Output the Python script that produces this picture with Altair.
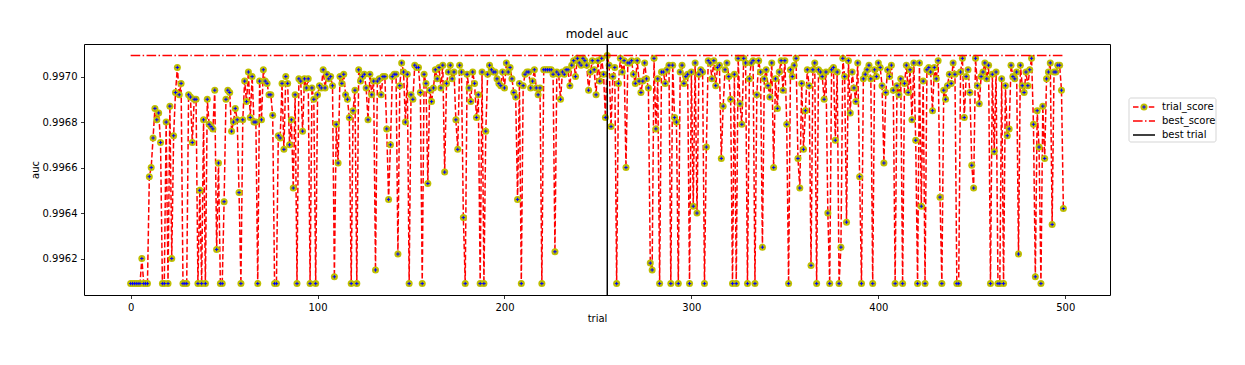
import altair as alt
import pandas as pd

# ---- data (auc per trial, trials 0..499) ----
auc_000_049 = [
    0.99609, 0.99609, 0.99609, 0.99609, 0.99609, 0.99609, 0.99620, 0.99609, 0.99609, 0.99609,
    0.99656, 0.99660, 0.99673, 0.99686, 0.99681, 0.99684, 0.99671, 0.99609, 0.99609, 0.99680,
    0.99609, 0.99687, 0.99620, 0.99674, 0.99693, 0.99704, 0.99692, 0.99697, 0.99609, 0.99609,
    0.99609, 0.99692, 0.99691, 0.99671, 0.99690, 0.99690, 0.99609, 0.99650, 0.99609, 0.99681,
    0.99609, 0.99690, 0.99679, 0.99678, 0.99677, 0.99694, 0.99624, 0.99662, 0.99609, 0.99609,
]
auc_050_099 = [
    0.99645, 0.99690, 0.99694, 0.99693, 0.99676, 0.99680, 0.99686, 0.99681, 0.99649, 0.99609,
    0.99681, 0.99698, 0.99689, 0.99702, 0.99682, 0.99700, 0.99680, 0.99680, 0.99609, 0.99698,
    0.99681, 0.99703, 0.99698, 0.99697, 0.99692, 0.99692, 0.99683, 0.99609, 0.99609, 0.99674,
    0.99673, 0.99697, 0.99668, 0.99700, 0.99697, 0.99670, 0.99681, 0.99651, 0.99692, 0.99609,
    0.99699, 0.99698, 0.99676, 0.99699, 0.99695, 0.99699, 0.99609, 0.99695, 0.99690, 0.99609,
]
auc_100_149 = [
    0.99692, 0.99696, 0.99695, 0.99703, 0.99695, 0.99701, 0.99699, 0.99700, 0.99696, 0.99612,
    0.99679, 0.99662, 0.99700, 0.99697, 0.99701, 0.99692, 0.99690, 0.99682, 0.99609, 0.99685,
    0.99694, 0.99609, 0.99703, 0.99698, 0.99700, 0.99701, 0.99695, 0.99681, 0.99701, 0.99692,
    0.99698, 0.99615, 0.99698, 0.99699, 0.99692, 0.99700, 0.99700, 0.99677, 0.99646, 0.99670,
    0.99700, 0.99701, 0.99701, 0.99622, 0.99696, 0.99706, 0.99702, 0.99680, 0.99701, 0.99609,
]
auc_150_199 = [
    0.99692, 0.99690, 0.99705, 0.99704, 0.99704, 0.99693, 0.99609, 0.99701, 0.99697, 0.99653,
    0.99694, 0.99689, 0.99695, 0.99703, 0.99699, 0.99704, 0.99695, 0.99705, 0.99658, 0.99697,
    0.99702, 0.99705, 0.99699, 0.99702, 0.99681, 0.99668, 0.99705, 0.99702, 0.99638, 0.99609,
    0.99701, 0.99695, 0.99689, 0.99702, 0.99697, 0.99682, 0.99692, 0.99609, 0.99702, 0.99609,
    0.99676, 0.99701, 0.99705, 0.99703, 0.99702, 0.99702, 0.99699, 0.99697, 0.99696, 0.99702,
]
auc_200_249 = [
    0.99695, 0.99706, 0.99702, 0.99704, 0.99699, 0.99693, 0.99691, 0.99646, 0.99697, 0.99609,
    0.99696, 0.99701, 0.99702, 0.99702, 0.99695, 0.99698, 0.99703, 0.99695, 0.99692, 0.99695,
    0.99609, 0.99703, 0.99703, 0.99703, 0.99703, 0.99703, 0.99701, 0.99623, 0.99702, 0.99701,
    0.99690, 0.99702, 0.99701, 0.99703, 0.99703, 0.99696, 0.99705, 0.99707, 0.99700, 0.99708,
    0.99706, 0.99705, 0.99708, 0.99707, 0.99705, 0.99694, 0.99702, 0.99707, 0.99703, 0.99692,
]
auc_250_299 = [
    0.99707, 0.99698, 0.99708, 0.99701, 0.99682, 0.997093, 0.99705, 0.99678, 0.99700, 0.99704,
    0.99609, 0.99697, 0.99708, 0.99702, 0.99707, 0.99660, 0.99706, 0.99706, 0.99707, 0.99701,
    0.99697, 0.99707, 0.99698, 0.99693, 0.99698, 0.99706, 0.99699, 0.99695, 0.99618, 0.99615,
    0.99708, 0.99677, 0.99699, 0.99609, 0.99702, 0.99702, 0.99697, 0.99703, 0.99705, 0.99609,
    0.99705, 0.99682, 0.99680, 0.99609, 0.99702, 0.99705, 0.99697, 0.99700, 0.99701, 0.99609,
]
auc_300_349 = [
    0.99702, 0.99643, 0.99706, 0.99640, 0.99701, 0.99703, 0.99702, 0.99609, 0.99669, 0.99707,
    0.99706, 0.99699, 0.99707, 0.99696, 0.99704, 0.99705, 0.99664, 0.99687, 0.99703, 0.99706,
    0.99700, 0.99690, 0.99609, 0.99701, 0.99609, 0.99708, 0.99688, 0.99679, 0.99708, 0.99706,
    0.99609, 0.99699, 0.99706, 0.99707, 0.99609, 0.99692, 0.99707, 0.99702, 0.99625, 0.99699,
    0.99703, 0.99696, 0.99691, 0.99706, 0.99660, 0.99699, 0.99686, 0.99702, 0.99707, 0.99694,
]
auc_350_399 = [
    0.99707, 0.99679, 0.99609, 0.99703, 0.99700, 0.99705, 0.99708, 0.99664, 0.99651, 0.99697,
    0.99668, 0.99685, 0.99703, 0.99696, 0.99617, 0.99703, 0.99706, 0.99609, 0.99703, 0.99702,
    0.99700, 0.99690, 0.99702, 0.99640, 0.99609, 0.99703, 0.99704, 0.99672, 0.99702, 0.99609,
    0.99625, 0.99708, 0.99700, 0.99636, 0.99707, 0.99684, 0.99702, 0.99695, 0.99689, 0.99706,
    0.99656, 0.99609, 0.99699, 0.99701, 0.99703, 0.99705, 0.99699, 0.99609, 0.99703, 0.99700,
]
auc_400_449 = [
    0.99706, 0.99704, 0.99696, 0.99662, 0.99693, 0.99703, 0.99700, 0.99705, 0.99694, 0.99609,
    0.99696, 0.99692, 0.99699, 0.99609, 0.99697, 0.99705, 0.99693, 0.99703, 0.99681, 0.99706,
    0.99672, 0.99609, 0.99706, 0.99643, 0.99698, 0.99609, 0.99703, 0.99704, 0.99702, 0.99685,
    0.99704, 0.99699, 0.99707, 0.99647, 0.99609, 0.99694, 0.99690, 0.99696, 0.99701, 0.99697,
    0.99706, 0.99701, 0.99609, 0.99609, 0.99702, 0.99708, 0.99682, 0.99700, 0.99703, 0.99693,
]
auc_450_499 = [
    0.99661, 0.99651, 0.99708, 0.99696, 0.99688, 0.99700, 0.99702, 0.99706, 0.99699, 0.99705,
    0.99609, 0.99701, 0.99667, 0.99702, 0.99609, 0.99609, 0.99699, 0.99609, 0.99696, 0.99674,
    0.99677, 0.99705, 0.99700, 0.99699, 0.99702, 0.99622, 0.99705, 0.99696, 0.99693, 0.99702,
    0.99696, 0.99703, 0.99708, 0.99679, 0.99612, 0.99685, 0.99669, 0.99609, 0.99687, 0.99664,
    0.99699, 0.99702, 0.99706, 0.99635, 0.99702, 0.99702, 0.99705, 0.99705, 0.99694, 0.99642,
]

series_labels = ["trial_score", "best_score", "best trial"]
x_ticks = [0, 100, 200, 300, 400, 500]
y_ticks = [0.9962, 0.9964, 0.9966, 0.9968, 0.9970]

values = (auc_000_049 + auc_050_099 + auc_100_149 + auc_150_199 + auc_200_249
          + auc_250_299 + auc_300_349 + auc_350_399 + auc_400_449 + auc_450_499)
trials = list(range(len(values)))

best_value = max(values)
best_trial = values.index(best_value)

# matplotlib-like 5% margins
x_lo, x_hi = trials[0], trials[-1]
xm = (x_hi - x_lo) * 0.05
y_lo, y_hi = min(values), max(values)
ym = (y_hi - y_lo) * 0.05

df = pd.DataFrame({"trial": trials, "auc": values})
best_df = pd.DataFrame({"trial": [x_lo, x_hi], "auc": [best_value, best_value]})
vline_df = pd.DataFrame({"trial": [best_trial]})

FONT = "DejaVu Sans"
RED = "#ff0000"
OLIVE = "#bfbf00"
BLUE = "#0000ff"
DASH = [5.5, 2.4]
DASHDOT = [9.6, 2.4, 1.5, 2.4]
PLUS = "M-1,0H1M0,-1V1"

xscale = alt.Scale(domain=[x_lo - xm, x_hi + xm], nice=False, zero=False)
yscale = alt.Scale(domain=[y_lo - ym, y_hi + ym], nice=False, zero=False)

x_enc = alt.X("trial:Q", scale=xscale,
              axis=alt.Axis(values=x_ticks, title="trial", format="d", titlePadding=1, grid=False))
y_enc = alt.Y("auc:Q", scale=yscale,
              axis=alt.Axis(values=y_ticks, title="auc", format=".4f", titlePadding=2, grid=False))

base = alt.Chart(df)
line = base.mark_line(color=RED, strokeWidth=1.5, strokeDash=DASH).encode(x=x_enc, y=y_enc)
dots = base.mark_point(shape="circle", filled=True, color=OLIVE, size=49, opacity=1).encode(
    x="trial:Q", y="auc:Q")
plus = base.mark_point(shape=PLUS, filled=False, color=BLUE, size=12, strokeWidth=1, opacity=1).encode(
    x="trial:Q", y="auc:Q")
best_line = alt.Chart(best_df).mark_line(color=RED, strokeWidth=1.5, strokeDash=DASHDOT).encode(
    x="trial:Q", y="auc:Q")
vline = alt.Chart(vline_df).mark_rule(color="#000000", strokeWidth=1.5).encode(x="trial:Q")

# ---- legend (outside the plot, right side) ----
LX0, LX1 = 1045, 1132
LY0, LY1 = 54, 98
rows_y = [63, 77, 91]
gx0, gx1, gxc, tx = 1049, 1071, 1060, 1078

one = pd.DataFrame({"k": [0]})
leg_box = alt.Chart(one).mark_rect(fill="white", stroke="#cccccc", strokeWidth=1,
                                   cornerRadius=2, opacity=0.8).encode(
    x=alt.value(LX0), x2=alt.value(LX1), y=alt.value(LY0), y2=alt.value(LY1))
g1 = alt.Chart(one).mark_rule(color=RED, strokeWidth=1.5, strokeDash=DASH).encode(
    x=alt.value(gx0), x2=alt.value(gx1), y=alt.value(rows_y[0]))
g1c = alt.Chart(one).mark_point(shape="circle", filled=True, color=OLIVE, size=49, opacity=1).encode(
    x=alt.value(gxc), y=alt.value(rows_y[0]))
g1p = alt.Chart(one).mark_point(shape=PLUS, filled=False, color=BLUE, size=12, strokeWidth=1, opacity=1).encode(
    x=alt.value(gxc), y=alt.value(rows_y[0]))
g2 = alt.Chart(one).mark_rule(color=RED, strokeWidth=1.5, strokeDash=DASHDOT).encode(
    x=alt.value(gx0), x2=alt.value(gx1), y=alt.value(rows_y[1]))
g3 = alt.Chart(one).mark_rule(color="#000000", strokeWidth=1.5).encode(
    x=alt.value(gx0), x2=alt.value(gx1), y=alt.value(rows_y[2]))
texts = []
for lab, yy in zip(series_labels, rows_y):
    texts.append(
        alt.Chart(pd.DataFrame({"label": [lab]})).mark_text(
            align="left", baseline="middle", font=FONT, fontSize=10, color="#000000").encode(
            text="label:N", x=alt.value(tx), y=alt.value(yy)))

chart = alt.layer(line, dots, plus, best_line, vline, leg_box, g1, g1c, g1p, g2, g3, *texts).properties(
    width=1026, height=251,
    title=alt.TitleParams("model auc", font=FONT, fontSize=12, fontWeight="normal",
                          color="#000000", anchor="middle", offset=2),
    padding={"left": 76, "top": 36, "right": 119, "bottom": 40},
    autosize=alt.AutoSizeParams(type="none"),
    background="white",
).configure_view(
    stroke="#000000", strokeWidth=1
).configure_axis(
    grid=False, domain=False,
    labelFont=FONT, labelFontSize=10, labelColor="#000000",
    titleFont=FONT, titleFontSize=10, titleFontWeight="normal", titleColor="#000000",
    tickColor="#000000", tickSize=3.5, tickWidth=0.8, labelPadding=3.5,
)

chart.save("out.html", embed_options={"renderer": "svg", "actions": False})
